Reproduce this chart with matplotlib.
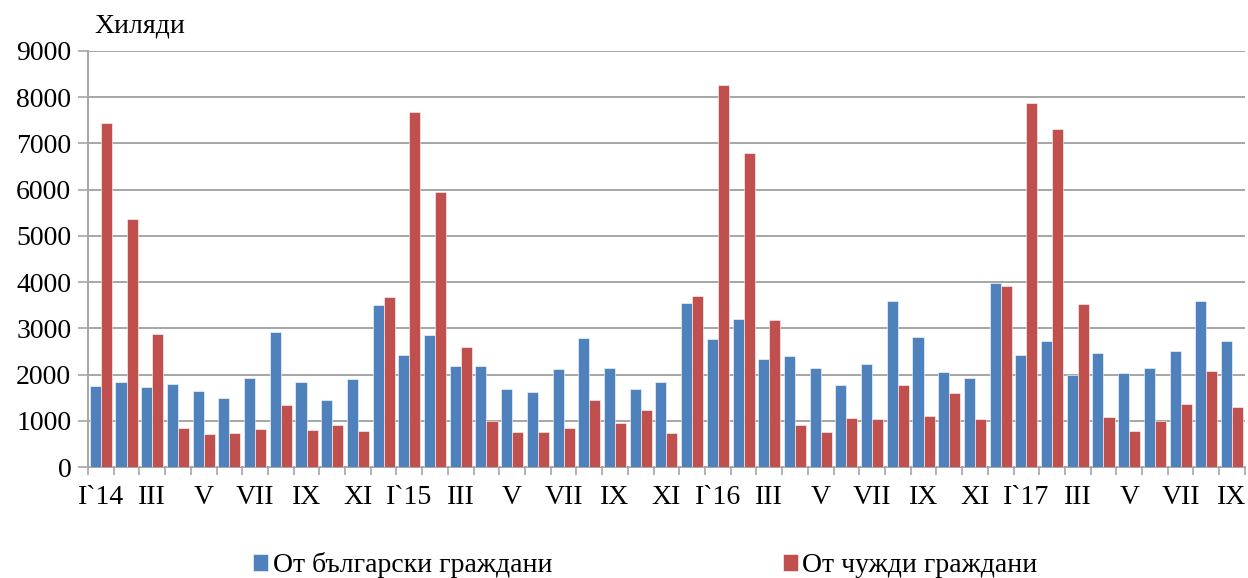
import matplotlib.pyplot as plt
import numpy as np

plt.rcParams['font.family'] = ['Liberation Serif', 'DejaVu Serif']

months = ['I`14', 'II', 'III', 'IV', 'V', 'VI', 'VII', 'VIII', 'IX', 'X', 'XI', 'XII',
          'I`15', 'II', 'III', 'IV', 'V', 'VI', 'VII', 'VIII', 'IX', 'X', 'XI', 'XII',
          'I`16', 'II', 'III', 'IV', 'V', 'VI', 'VII', 'VIII', 'IX', 'X', 'XI', 'XII',
          'I`17', 'II', 'III', 'IV', 'V', 'VI', 'VII', 'VIII', 'IX']

bulgarian = [1750, 1840, 1730, 1790, 1650, 1490, 1930, 2910, 1840, 1460, 1900, 3510,
             2430, 2850, 2180, 2180, 1680, 1620, 2120, 2800, 2150, 1680, 1840, 3540,
             2760, 3200, 2340, 2400, 2140, 1780, 2230, 3580, 2810, 2060, 1920, 3990,
             2420, 2720, 2000, 2470, 2030, 2140, 2500, 3600, 2720]

foreign = [7430, 5360, 2870, 850, 710, 730, 820, 1350, 790, 900, 770, 3680,
           7680, 5940, 2590, 1000, 760, 760, 850, 1450, 960, 1230, 740, 3700,
           8260, 6790, 3180, 900, 760, 1060, 1040, 1780, 1110, 1610, 1040, 3920,
           7880, 7300, 3530, 1090, 780, 1000, 1360, 2080, 1300]

blue = '#4F81BD'
red = '#C0504D'
grey = '#A6A6A6'

fig = plt.figure(figsize=(12.48, 5.78), dpi=100)
ax = fig.add_axes([0.0705, 0.192, 0.927, 0.72])

x = np.arange(len(months))
w = 0.43
ax.bar(x - w / 2, bulgarian, w, color=blue, edgecolor='white', linewidth=0.4,
       label='От български граждани', zorder=3)
ax.bar(x + w / 2, foreign, w, color=red, edgecolor='white', linewidth=0.4,
       label='От чужди граждани', zorder=3)

ax.set_xlim(-0.5, len(months) - 0.5)
ax.set_ylim(0, 9000)
ax.set_yticks(np.arange(0, 9001, 1000))

ax.set_xticks(x[::2])
ax.set_xticklabels(months[::2])
ax.set_xticks(np.arange(-0.5, len(months), 1), minor=True)
ax.tick_params(axis='x', which='major', length=0, pad=13, labelsize=20)
ax.tick_params(axis='x', which='minor', length=6, width=1.2, color=grey, direction='out')
ax.tick_params(axis='y', length=7, width=1.2, color=grey, labelsize=20, pad=5)

ax.grid(axis='y', color=grey, linewidth=1.4, zorder=0)
for s in ['top', 'right']:
    ax.spines[s].set_visible(False)
for s in ['left', 'bottom']:
    ax.spines[s].set_color(grey)
    ax.spines[s].set_linewidth(1.4)

fig.text(0.076, 0.955, 'Хиляди', fontsize=20, ha='left', va='center')

fig.legend(loc='center', bbox_to_anchor=(0.517, 0.022), ncol=2, frameon=False,
           fontsize=20, handlelength=0.55, handleheight=0.55, handletextpad=0.15,
           columnspacing=8.3)

fig.savefig('out.png', dpi=100)
